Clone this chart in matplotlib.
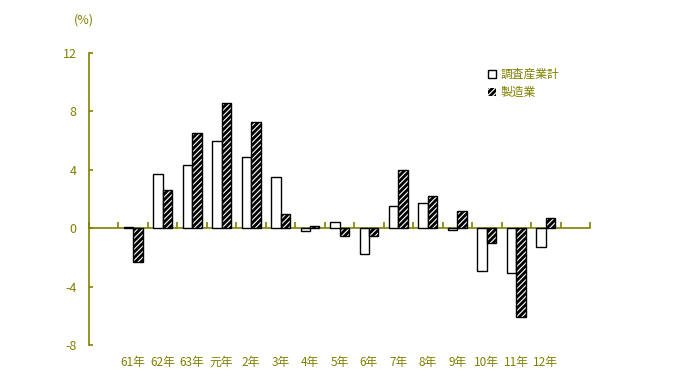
import numpy as np
import matplotlib
matplotlib.use("Agg")
import matplotlib.pyplot as plt
from matplotlib.transforms import blended_transform_factory

plt.rcParams['font.family'] = ['Noto Sans CJK JP', 'DejaVu Sans']
plt.rcParams['hatch.color'] = 'white'
plt.rcParams['hatch.linewidth'] = 0.8

olive = "#808000"

# 年次 (スロット0と16は空き)
nen = ["", "61年", "62年", "63年", "元年", "2年", "3年", "4年", "5年",
       "6年", "7年", "8年", "9年", "10年", "11年", "12年", ""]
chousa = [np.nan, 0.1, 3.7, 4.3, 6.0, 4.9, 3.5, -0.2, 0.4,
          -1.8, 1.5, 1.7, -0.1, -2.9, -3.1, -1.3, np.nan]
seizou = [np.nan, -2.3, 2.6, 6.5, 8.6, 7.3, 1.0, 0.15, -0.5,
          -0.5, 4.0, 2.2, 1.2, -1.0, -6.1, 0.7, np.nan]
yticks = [-8, -4, 0, 4, 8, 12]

x = np.arange(len(nen))
w = 0.32

fig = plt.figure(figsize=(6.79, 3.77), dpi=100)
ax = fig.add_axes([89/679, 32/377, 501/679, 292/377])

ax.bar(x - w/2, chousa, w, color="white", edgecolor="black", linewidth=1.0,
       label="調査産業計", zorder=3)
ax.bar(x + w/2, seizou, w, color="black", hatch="//////", label="製造業",
       zorder=3)
ax.bar(x + w/2, seizou, w, fill=False, edgecolor="black", linewidth=1.0,
       zorder=3)

ax.set_xlim(-0.5, len(nen) - 0.5)
ax.set_ylim(-8, 12)

for s in ["top", "right"]:
    ax.spines[s].set_visible(False)
ax.spines["left"].set_color(olive)
ax.spines["bottom"].set_color(olive)
ax.spines["bottom"].set_position(("data", 0))
ax.spines["left"].set_linewidth(1.2)
ax.spines["bottom"].set_linewidth(1.2)

ax.set_xticks(np.arange(-0.5, len(nen)))
ax.set_xticklabels([])
ax.tick_params(axis="x", direction="in", length=4, color=olive, width=1.2)
ax.set_yticks(yticks)
ax.set_yticklabels([str(v) for v in yticks])
ax.tick_params(axis="y", direction="in", length=3, color=olive, width=1.2,
               labelcolor=olive, labelsize=9, pad=9)

trans = blended_transform_factory(ax.transData, ax.transAxes)
for i, lab in enumerate(nen):
    ax.text(i, -0.06, lab, transform=trans, ha="center", va="center",
            fontsize=8.5, color=olive)

fig.text(84/679, 1 - 20/377, "(%)", ha="center", va="center",
         fontsize=9, color=olive)

leg = ax.legend(loc="upper left", bbox_to_anchor=(488/679, 1 - 68/377),
                bbox_transform=fig.transFigure, frameon=False, fontsize=8.5,
                handlelength=0.7, handleheight=0.7, handletextpad=0.4,
                labelspacing=0.45, borderpad=0, borderaxespad=0)
for t in leg.get_texts():
    t.set_color(olive)

fig.savefig("out.png", dpi=100)
